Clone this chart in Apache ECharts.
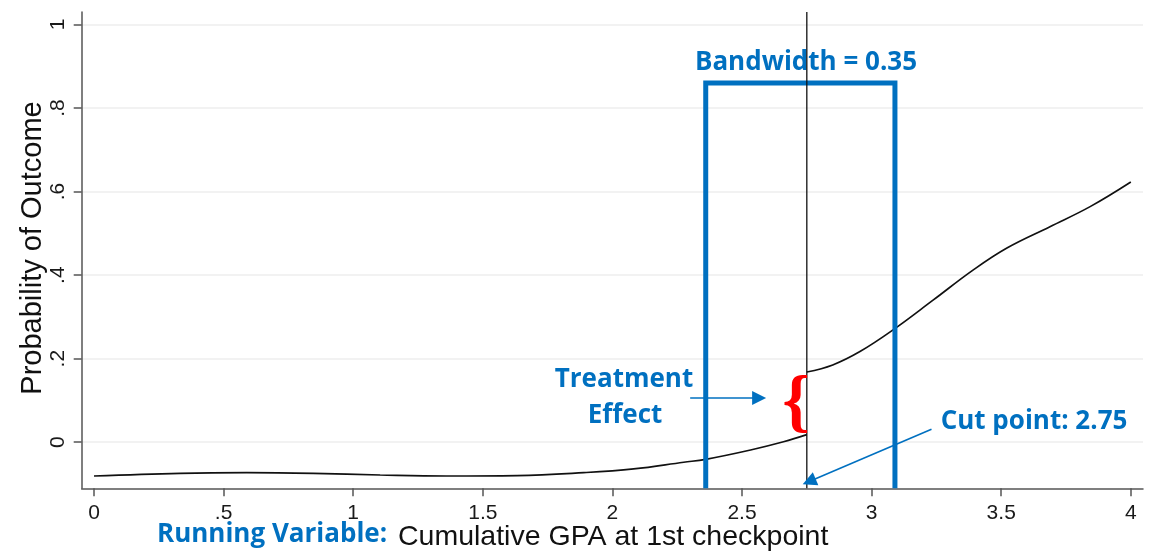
<!DOCTYPE html>
<html>
<head>
<meta charset="utf-8">
<style>
  html, body { margin: 0; padding: 0; background: #ffffff; }
  #chart { width: 1157px; height: 551px; }
</style>
<script src="https://cdn.jsdelivr.net/npm/echarts@6/dist/echarts.min.js"></script>
</head>
<body>
<div id="chart"></div>
<script>
// ---- data ----
const leftX  = [0, 0.332, 0.59, 0.846, 1.104, 1.36, 1.632, 1.889, 2.082, 2.275, 2.36, 2.533, 2.66, 2.75];
const leftY  = [-0.081, -0.0746, -0.073, -0.0746, -0.0786, -0.081, -0.080, -0.073, -0.064, -0.048, -0.041, -0.0187, 0.001, 0.018];
const rightX = [2.75, 2.85, 2.955, 3.083, 3.237, 3.391, 3.522, 3.688, 3.843, 4.0];
const rightY = [0.168, 0.185, 0.217, 0.269, 0.34, 0.412, 0.465, 0.516, 0.564, 0.623];
const cutPoint = 2.75;
const bwLeft = 2.36, bwRight = 3.09, bwTop = 0.86;
const xTickValues = [0, 0.5, 1, 1.5, 2, 2.5, 3, 3.5, 4];
const xTickLabels = ['0', '.5', '1', '1.5', '2', '2.5', '3', '3.5', '4'];
const yTickValues = [0, 0.2, 0.4, 0.6, 0.8, 1];
const yTickLabels = ['0', '.2', '.4', '.6', '.8', '1'];
const treatArrow = [[2.30, 0.106], [2.566, 0.106]];
const cutArrow = [[3.231, 0.031], [2.759, -0.094]];

const X_MIN = -0.0475, X_MAX = 4.047, Y_MIN = -0.1104, Y_MAX = 1.03;
const BLUE = '#0070C0';

const zip = (xs, ys) => xs.map((x, i) => [x, ys[i]]);
const labelFor = (vals, labs) => v => {
  const i = vals.findIndex(t => Math.abs(t - v) < 1e-9);
  return i >= 0 ? labs[i] : '';
};

const chart = echarts.init(document.getElementById('chart'), null, { renderer: 'canvas' });

chart.setOption({
  animation: false,
  backgroundColor: '#ffffff',
  grid: { left: 81.7, right: 14, top: 12, bottom: 62.7, containLabel: false },
  xAxis: {
    type: 'value', min: X_MIN, max: X_MAX,
    axisLine: { show: true, onZero: false, lineStyle: { color: '#555', width: 1.5 } },
    axisTick: { show: true, length: 8, customValues: xTickValues, lineStyle: { color: '#555', width: 1.5 } },
    axisLabel: { customValues: xTickValues, formatter: labelFor(xTickValues, xTickLabels),
      color: '#1a1a1a', fontSize: 21, fontFamily: 'Liberation Sans, Arial', margin: 14 },
    splitLine: { show: false }
  },
  yAxis: {
    type: 'value', min: Y_MIN, max: Y_MAX,
    axisLine: { show: true, onZero: false, lineStyle: { color: '#555', width: 1.5 } },
    axisTick: { show: true, length: 8, customValues: yTickValues, lineStyle: { color: '#555', width: 1.5 } },
    axisLabel: { customValues: yTickValues, formatter: labelFor(yTickValues, yTickLabels), rotate: 90,
      color: '#1a1a1a', fontSize: 21, fontFamily: 'Liberation Sans, Arial', margin: 13 },
    splitLine: { show: true, lineStyle: { color: '#eeeeee', width: 1.5 } }
  },
  series: [
    { type: 'line', data: zip(leftX, leftY), smooth: 0.4, showSymbol: false, z: 3,
      lineStyle: { color: '#111', width: 1.7 } },
    { type: 'line', data: zip(rightX, rightY), smooth: 0.4, showSymbol: false, z: 3,
      lineStyle: { color: '#111', width: 1.7 } },
    { type: 'line', data: [[bwLeft, Y_MIN], [bwLeft, bwTop], [bwRight, bwTop], [bwRight, Y_MIN]],
      showSymbol: false, z: 4, lineStyle: { color: BLUE, width: 5, cap: 'butt', join: 'miter' } },
    { type: 'line', data: [[cutPoint, Y_MIN], [cutPoint, Y_MAX]], showSymbol: false, z: 5,
      lineStyle: { color: '#111', width: 1.3 } },
    { type: 'lines', coordinateSystem: 'cartesian2d', z: 6,
      symbol: ['none', 'triangle'], symbolSize: [12, 14],
      lineStyle: { color: BLUE, width: 1.6, opacity: 1 },
      data: [ { coords: treatArrow }, { coords: cutArrow } ] }
  ]
});

const bf = { fill: BLUE, fontFamily: 'Open Sans', fontWeight: 'bold', fontSize: 26 };
const bracePos = chart.convertToPixel({ gridIndex: 0 }, [2.708, 0.088]);
chart.setOption({
  graphic: [
    { type: 'text', x: 33, y: 248, rotation: Math.PI / 2,
      style: { text: 'Probability of Outcome', fill: '#111', fontFamily: 'Liberation Sans, Arial', fontSize: 29, align: 'center', verticalAlign: 'middle' } },
    { type: 'text', x: 157, y: 535,
      style: Object.assign({ text: 'Running Variable:', align: 'left', verticalAlign: 'middle' }, bf) },
    { type: 'text', x: 398, y: 537,
      style: { text: 'Cumulative GPA at 1st checkpoint', fill: '#111', fontFamily: 'Liberation Sans, Arial', fontSize: 28.5, align: 'left', verticalAlign: 'middle' } },
    { type: 'text', x: 806, y: 63,
      style: Object.assign({ text: 'Bandwidth = 0.35', align: 'center', verticalAlign: 'middle' }, bf) },
    { type: 'text', x: 624, y: 380,
      style: Object.assign({ text: 'Treatment', align: 'center', verticalAlign: 'middle' }, bf) },
    { type: 'text', x: 625, y: 416,
      style: Object.assign({ text: 'Effect', align: 'center', verticalAlign: 'middle' }, bf) },
    { type: 'text', x: 1034, y: 422,
      style: Object.assign({ text: 'Cut point: 2.75', align: 'center', verticalAlign: 'middle' }, bf) },
    { type: 'text', x: bracePos[0], y: bracePos[1], z: 10,
      style: { text: '{', fill: '#ff0000', fontFamily: 'Liberation Serif', fontWeight: 'bold', fontSize: 70, align: 'center', verticalAlign: 'middle' } }
  ]
});
</script>
</body>
</html>
